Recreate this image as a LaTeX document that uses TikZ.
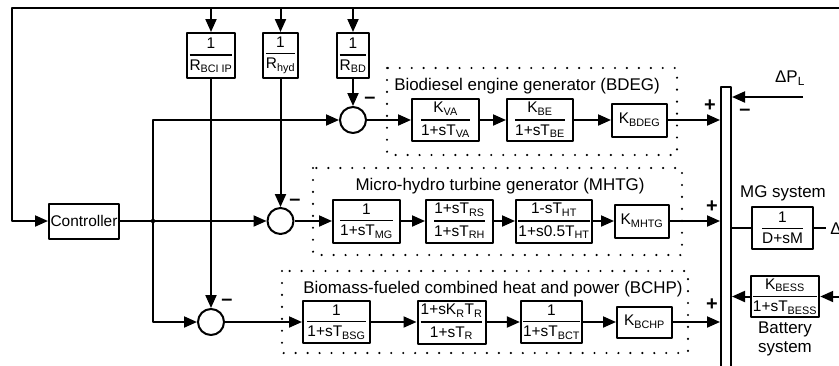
\documentclass[tikz,border=0pt]{standalone}
\usepackage{amsmath}
\usepackage{fontspec}
\setmainfont{Liberation Sans}
\usetikzlibrary{arrows.meta}
\newcommand{\blkfrac}[2]{$\genfrac{}{}{1.3pt}{0}{\mbox{#1}}{\mbox{#2}}$}
\tikzset{
  blk/.style={draw, line width=2pt, inner sep=1pt, align=center},
  sumc/.style={circle, draw, line width=2pt, minimum size=26bp, inner sep=0pt},
  dotbox/.style={line width=2.4pt, dash pattern=on 0pt off 12pt, line cap=round},
  ttl/.style={font=\fontsize{17}{19}\selectfont},
  sgn/.style={font=\fontsize{20}{20}\selectfont\bfseries}
}
\begin{document}
\begin{tikzpicture}[x=1bp, y=-1bp, line width=2pt, line join=round,
  >={Triangle[length=13bp,width=11bp]}, font=\fontsize{15.5}{17}\selectfont]
\useasboundingbox (0,0) rectangle (839,365);
\clip (0,0) rectangle (839,365);
%droop gains
\node[blk, minimum width=42bp, minimum height=45bp] (rbc) at (211,55.5) {\blkfrac{1}{R\textsubscript{BCI IP}}};
\node[blk, minimum width=35bp, minimum height=45bp] (rhy) at (280.5,55.5) {\blkfrac{1}{R\textsubscript{hyd}}};
\node[blk, minimum width=30bp, minimum height=45bp] (rbd) at (353,55.5) {\blkfrac{1}{R\textsubscript{BD}}};
\node[blk, minimum width=70bp, minimum height=35bp] (ctrl) at (84,221) {Controller};
\node[sumc] (s1) at (353,120) {};
\node[sumc] (s2) at (280.5,221) {};
\node[sumc] (s3) at (211,322) {};
%BDEG
\node[blk, minimum width=67bp, minimum height=42bp] (kva) at (445.5,120) {\blkfrac{K\textsubscript{VA}}{1+sT\textsubscript{VA}}};
\node[blk, minimum width=66bp, minimum height=42bp] (kbe) at (540,120) {\blkfrac{K\textsubscript{BE}}{1+sT\textsubscript{BE}}};
\node[blk, minimum width=55bp, minimum height=33bp] (kbd) at (639.5,120) {K\textsubscript{BDEG}};
%MHTG
\node[blk, minimum width=67bp, minimum height=43bp] (tmg) at (366.5,221) {\blkfrac{1}{1+sT\textsubscript{MG}}};
\node[blk, minimum width=67bp, minimum height=43bp] (trs) at (459.5,221) {\blkfrac{1+sT\textsubscript{RS}}{1+sT\textsubscript{RH}}};
\node[blk, minimum width=76bp, minimum height=43bp] (tht) at (554,221) {\blkfrac{1-sT\textsubscript{HT}}{1+s0.5T\textsubscript{HT}}};
\node[blk, minimum width=54bp, minimum height=33bp] (kmh) at (642,221) {K\textsubscript{MHTG}};
%BCHP
\node[blk, minimum width=67bp, minimum height=42bp] (tbs) at (336.5,322) {\blkfrac{1}{1+sT\textsubscript{BSG}}};
\node[blk, minimum width=68bp, minimum height=43bp] (tkr) at (451.5,322) {\blkfrac{1+sK\textsubscript{R}T\textsubscript{R}}{1+sT\textsubscript{R}}};
\node[blk, minimum width=61bp, minimum height=42bp] (tbc) at (551.5,322) {\blkfrac{1}{1+sT\textsubscript{BCT}}};
\node[blk, minimum width=55bp, minimum height=31bp] (kbc) at (644.5,322) {K\textsubscript{BCHP}};
%MG system and battery
\node[blk, minimum width=10bp, minimum height=300bp] (bar) at (726,237) {};
\node[blk, minimum width=61bp, minimum height=42bp] (mgs) at (782.5,228) {\blkfrac{1}{D+sM}};
\node[blk, minimum width=66bp, minimum height=41bp] (bat) at (785,296.5) {\blkfrac{K\textsubscript{BESS}}{1+sT\textsubscript{BESS}}};
\node[anchor=west, font=\fontsize{17}{19}\selectfont] (df) at (826,228) {Δf};
\coordinate (fbl) at (12,8);
\coordinate (fbr) at (845,8);
\coordinate (jn) at (153,221);
\coordinate (dpl) at (803,97);
\coordinate (bin) at (845,296.5);
%dotted frames and titles
\draw[dotbox] (387,68) rectangle (677,155);
\draw[dotbox] (313,168) rectangle (682,255);
\draw[dotbox] (282,271) rectangle (688,353);
\node[ttl] (t1) at (527,86) {Biodiesel engine generator (BDEG)};
\node[ttl] (t2) at (500,186) {Micro-hydro turbine generator (MHTG)};
\node[ttl] (t3) at (493,289) {Biomass-fueled combined heat and power (BCHP)};
\node[ttl] (lmg) at (783,193) {MG system};
\node[ttl, align=center] (lbat) at (785,339) {Battery\\system};
\node[ttl] (lpl) at (790,78) {ΔP\textsubscript{L}};
%connectors
\draw[->] (fbr) -- (fbl) |- (ctrl);
\foreach \n in {rbc,rhy,rbd}
  \draw[->] (\n.north |- fbl) -- (\n.north);
\draw[->] (rbd) -- (s1);
\draw[->] (rhy) -- (s2);
\draw[->] (rbc) -- (s3);
\draw[->] (ctrl) -- (s2);
\draw[->] (jn) |- (s1);
\draw[->] (jn) |- (s3);
\fill (jn) circle (2.2bp);
\foreach \a/\b in {s1/kva, kva/kbe, kbe/kbd, s2/tmg, tmg/trs, trs/tht, tht/kmh, s3/tbs, tbs/tkr, tkr/tbc, tbc/kbc}
  \draw[->] (\a) -- (\b);
\foreach \n in {kbd,kmh,kbc}
  \draw[->] (\n) -- (\n -| bar.west);
\draw[->] (dpl) -- (dpl -| bar.east);
\draw (bar.east |- mgs) -- (mgs) -- (df);
\draw[->] (bin) -- (bat);
\draw[->] (bat) -- (bat -| bar.east);
%signs
\foreach \x/\y/\s in {370/100/--, 295/202/--, 227/302/--, 745/112/--, 710/106/+, 712/207/+, 712/305/+}
  \node[sgn] at (\x,\y) {\s};
\end{tikzpicture}
\end{document}
